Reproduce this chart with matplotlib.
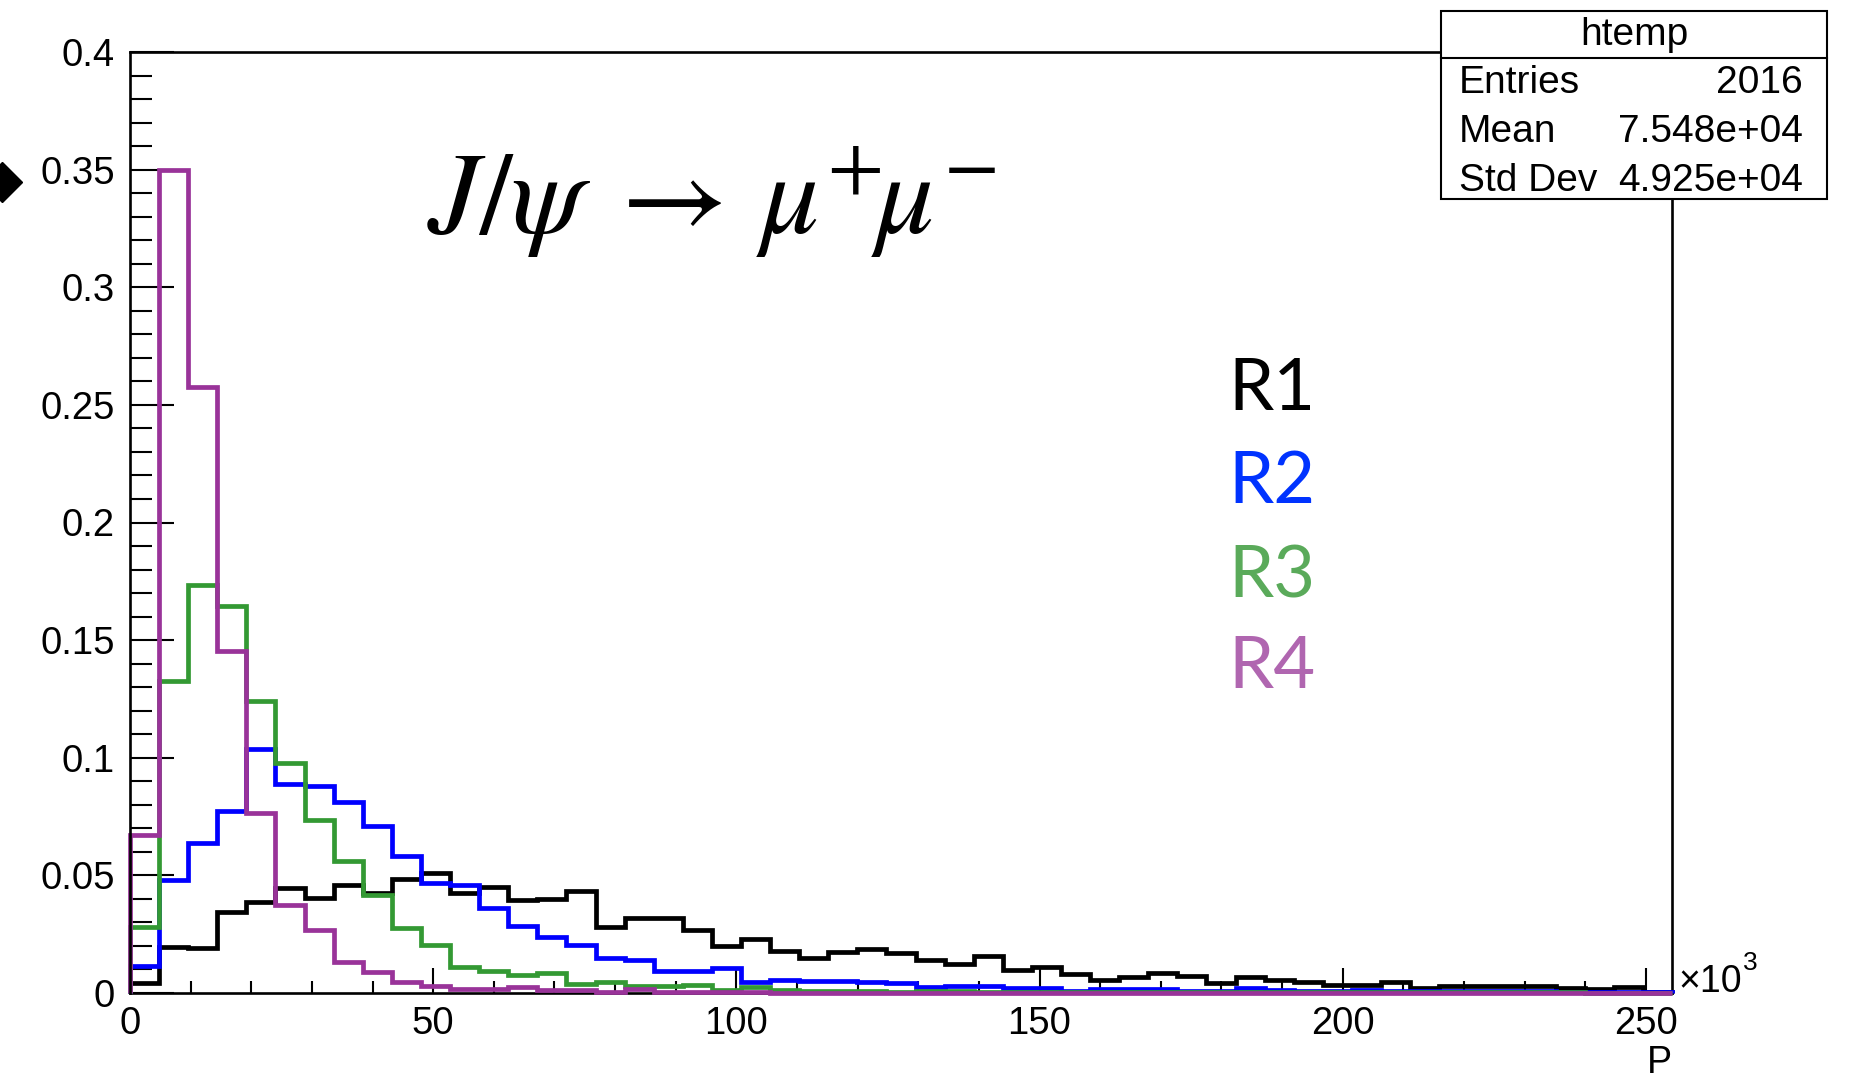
import numpy as np
import matplotlib
matplotlib.use('Agg')
import matplotlib.pyplot as plt
from matplotlib.patches import Rectangle
from matplotlib.lines import Line2D
from matplotlib.ticker import MultipleLocator

# ---------------- data ----------------
p_max = 254.3          # x axis upper edge (x10^3)
n_bins = 53

r1 = [0.0044, 0.0197, 0.0190, 0.0344, 0.0387, 0.0446, 0.0404, 0.0457, 0.0427, 0.0485,
      0.0509, 0.0427, 0.0452, 0.0396, 0.0400, 0.0434, 0.0282, 0.0320, 0.0320, 0.0268,
      0.0200, 0.0228, 0.0180, 0.0150, 0.0176, 0.0186, 0.0169, 0.0139, 0.0125, 0.0156,
      0.0098, 0.0112, 0.0081, 0.0055, 0.0069, 0.0084, 0.0072, 0.0044, 0.0067, 0.0055,
      0.0048, 0.0036, 0.0036, 0.0046, 0.0022, 0.0028, 0.0030, 0.0030, 0.0030, 0.0020,
      0.0017, 0.0025, 0.0005]
r2 = [0.0116, 0.0480, 0.0637, 0.0774, 0.1037, 0.0888, 0.0882, 0.0811, 0.0708, 0.0584,
      0.0469, 0.0460, 0.0362, 0.0284, 0.0240, 0.0204, 0.0150, 0.0140, 0.0095, 0.0095,
      0.0105, 0.0048, 0.0055, 0.0050, 0.0050, 0.0048, 0.0041, 0.0024, 0.0031, 0.0028,
      0.0020, 0.0020, 0.0010, 0.0017, 0.0017, 0.0015, 0.0010, 0.0010, 0.0020, 0.0013,
      0.0010, 0.0010, 0.0013, 0.0008, 0.0008, 0.0010, 0.0008, 0.0010, 0.0010, 0.0005,
      0.0005, 0.0005, 0.0003]
r3 = [0.0280, 0.1325, 0.1733, 0.1647, 0.1240, 0.0977, 0.0736, 0.0559, 0.0417, 0.0275,
      0.0204, 0.0112, 0.0095, 0.0077, 0.0086, 0.0037, 0.0048, 0.0031, 0.0028, 0.0035,
      0.0013, 0.0024, 0.0013, 0.0008, 0.0008, 0.0010, 0.0006, 0.0008, 0.0008, 0.0006,
      0.0006, 0.0005, 0.0006, 0.0005, 0.0005, 0.0004, 0.0004, 0.0005, 0.0004, 0.0004,
      0.0003, 0.0004, 0.0003, 0.0003, 0.0003, 0.0003, 0.0004, 0.0003, 0.0003, 0.0003,
      0.0002, 0.0002, 0.0002]
r4 = [0.0672, 0.3500, 0.2577, 0.1452, 0.0767, 0.0374, 0.0268, 0.0133, 0.0091, 0.0048,
      0.0030, 0.0016, 0.0018, 0.0024, 0.0013, 0.0013, 0.0004, 0.0016, 0.0003, 0.0006,
      0.0003, 0.0003, 0.0002, 0.0002, 0.0002, 0.0002, 0.0002, 0.0002, 0.0002, 0.0001,
      0.0001, 0.0001, 0.0001, 0.0001, 0.0001, 0.0001, 0.0001, 0.0001, 0.0001, 0.0001,
      0.0001, 0.0001, 0.0001, 0.0001, 0.0001, 0.0001, 0.0001, 0.0001, 0.0001, 0.0001,
      0.0001, 0.0001, 0.0001]

series_names = ['R1', 'R2', 'R3', 'R4']
y_ticks = [0, 0.05, 0.1, 0.15, 0.2, 0.25, 0.3, 0.35, 0.4]
y_tick_labels = ['0', '0.05', '0.1', '0.15', '0.2', '0.25', '0.3', '0.35', '0.4']
x_ticks = [0, 50, 100, 150, 200, 250]
x_tick_labels = ['0', '50', '100', '150', '200', '250']
stats_title = 'htemp'
stats_names = ['Entries', 'Mean', 'Std Dev']
stats_values = ['2016', '7.548e+04', '4.925e+04']
x_title = 'P'
formula = r'$J/\psi\;\rightarrow\,\mu^{+}\!\mu^{-}$'

# ---------------- style ----------------
W, H = 1855, 1078
plt.rcParams['font.family'] = ['Liberation Sans', 'DejaVu Sans']
hist_colors = ['#000000', '#0000ff', '#339933', '#993399']
label_colors = ['#000000', '#0033ff', '#5aaa5a', '#b066b0']


def fx(x):
    return x / W


def fy(y):
    return 1 - y / H


fig = plt.figure(figsize=(W / 100, H / 100), dpi=100)
ax = fig.add_axes([fx(130), fy(993), (1672 - 130) / W, (993 - 52) / H])

edges = np.linspace(0, p_max, n_bins + 1)
for vals, c in zip([r1, r2, r3, r4], hist_colors):
    ax.stairs(vals, edges, color=c, lw=3.4, baseline=0, zorder=3, clip_on=False)

ax.set_xlim(0, p_max)
ax.set_ylim(0, 0.4)
ax.set_yticks(y_ticks, labels=y_tick_labels)
ax.set_xticks(x_ticks, labels=x_tick_labels)
ax.yaxis.set_minor_locator(MultipleLocator(0.01))
ax.xaxis.set_minor_locator(MultipleLocator(10))
ax.tick_params(axis='y', which='major', direction='in', length=32, width=1.5,
               labelsize=27.5, pad=11)
ax.tick_params(axis='y', which='minor', direction='in', length=16, width=1.5)
ax.tick_params(axis='x', which='major', direction='in', length=18, width=1.5,
               labelsize=27.5, pad=9)
ax.tick_params(axis='x', which='minor', direction='in', length=9, width=1.5)
for s in ax.spines.values():
    s.set_linewidth(1.9)
ax.spines['left'].set_zorder(5)
ax.spines['bottom'].set_zorder(2)

# formula
fig.text(fx(427), fy(234), formula, fontsize=84, math_fontfamily='stix',
         ha='left', va='baseline')

# series labels
label_baselines = [410, 503, 597, 688]
for name, c, yb in zip(series_names, label_colors, label_baselines):
    fig.text(fx(1228), fy(yb), name, color=c, fontsize=52, family='Lato',
             ha='left', va='baseline')

# x10^3 and axis title
t = fig.text(fx(1678), fy(992), '\u00d710', fontsize=27, ha='left', va='baseline')
fig.canvas.draw()
bb = t.get_window_extent(fig.canvas.get_renderer())
fig.text(bb.x1 / W + 1 / W, fy(970), '3', fontsize=19, ha='left', va='baseline')
fig.text(fx(1672), fy(1073), x_title, fontsize=27, ha='right', va='baseline')

# stats box
box = Rectangle((fx(1441), fy(199)), (1827 - 1441) / W, (199 - 11) / H,
                transform=fig.transFigure, facecolor='white', edgecolor='black',
                lw=1.5, zorder=10)
fig.add_artist(box)
fig.add_artist(Line2D([fx(1441), fx(1827)], [fy(58), fy(58)], color='black',
                      lw=1.5, transform=fig.transFigure, zorder=11))
fig.text(fx(1634), fy(45), stats_title, fontsize=28, ha='center', va='baseline',
         zorder=12)
for i, (n, v) in enumerate(zip(stats_names, stats_values)):
    yb = 93 + 49 * i
    fig.text(fx(1459), fy(yb), n, fontsize=28, ha='left', va='baseline', zorder=12)
    fig.text(fx(1803), fy(yb), v, fontsize=28, ha='right', va='baseline', zorder=12)

# cropped marker at left edge
fig.add_artist(Line2D([fx(2)], [fy(182)], marker='D', markersize=20, color='black',
                      transform=fig.transFigure, clip_on=False))

fig.savefig('out.png', dpi=100)
